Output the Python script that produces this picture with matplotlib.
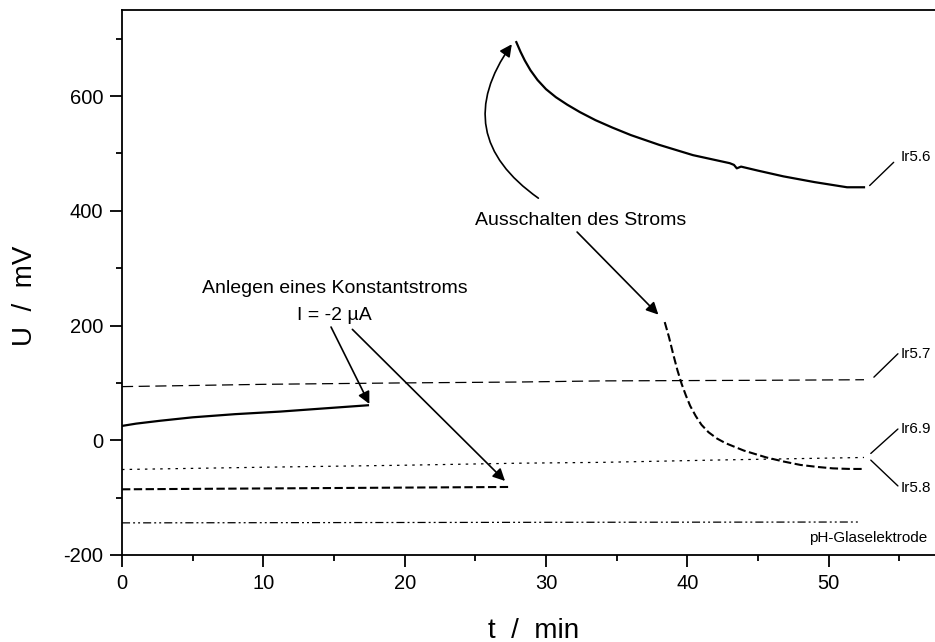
import matplotlib
matplotlib.use("Agg")
import matplotlib.pyplot as plt
from matplotlib.ticker import MultipleLocator, FixedLocator

plt.rcParams['font.family'] = ['Liberation Sans', 'DejaVu Sans']
plt.rcParams['lines.scale_dashes'] = False
plt.rcParams['axes.unicode_minus'] = False

# Ir5.6 – before and after switching off the current
t_ir56_a = [0, 1, 2.7, 5, 8, 11.2, 14, 17.4]
u_ir56_a = [25, 29, 34, 40, 45.5, 50, 55, 61]
t_ir56_b = [27.9, 28.2, 28.5, 28.9, 29.4, 30.0, 30.7, 31.5, 32.4, 33.5, 34.7, 36, 38, 40.4,
            43.0, 43.3, 43.5, 43.8, 45, 46.8, 49, 51.3, 52.5]
u_ir56_b = [694, 677, 662, 645, 628, 612, 598, 585, 572, 558, 545, 532, 515, 497,
            483, 480, 474, 477, 470, 460, 450, 441, 441]

# Ir5.7
t_ir57 = [0, 10, 20, 28, 34, 45, 52.5]
u_ir57 = [93.5, 97.5, 100, 101.5, 103.5, 104.5, 105.5]

# Ir6.9
t_ir69 = [0, 10, 20, 28, 34, 42, 52.5]
u_ir69 = [-51, -47, -43.5, -40, -38.5, -34.5, -30]

# Ir5.8 – constant current phase and relaxation
t_ir58_a = [0, 10, 20, 27.5]
u_ir58_a = [-85.5, -84, -82.5, -81.4]
t_ir58_b = [38.4, 38.7, 39.0, 39.3, 39.6, 39.9, 40.2, 40.6, 41.0, 41.5, 42.1, 42.7,
            43.3, 44.0, 44.8, 45.6, 46.8, 48.0, 49.2, 50.3, 51.5, 52.5]
u_ir58_b = [206, 180, 150, 122, 98, 78, 60, 42, 27, 14, 3, -5,
            -11, -18, -24, -30, -37, -43, -46.5, -49, -50, -50]

# pH glass electrode
t_ph = [0, 30, 52.2]
u_ph = [-144, -143, -142.5]

x_ticks = [0, 10, 20, 30, 40, 50]

fig = plt.figure(figsize=(9.35, 6.42), dpi=100)
ax = fig.add_axes([122 / 935, 87 / 642, 848 / 935, 545 / 642])

k = 'black'
ax.plot(t_ir56_a, u_ir56_a, color=k, lw=1.6)
ax.plot(t_ir56_b, u_ir56_b, color=k, lw=1.6)
ax.plot(t_ir57, u_ir57, color=k, lw=0.9, ls=(0, (8, 4)))
ax.plot(t_ir69, u_ir69, color=k, lw=0.9, ls=(0, (1.8, 3.7)))
ax.plot(t_ir58_a, u_ir58_a, color=k, lw=1.5, ls=(0, (6, 2.5)))
ax.plot(t_ir58_b, u_ir58_b, color=k, lw=1.5, ls=(0, (6, 2.5)))
ax.plot(t_ph, u_ph, color=k, lw=0.9, ls=(0, (5.8, 2.2, 1.4, 2.2, 1.4, 2.2)))

ax.set_xlim(0, 60)
ax.set_ylim(-200, 750)
ax.xaxis.set_major_locator(FixedLocator(x_ticks))
ax.xaxis.set_minor_locator(MultipleLocator(5))
ax.yaxis.set_major_locator(MultipleLocator(200))
ax.yaxis.set_minor_locator(MultipleLocator(100))
ax.tick_params(which='both', direction='out', width=1.3, top=False, right=False,
               labelsize=14.5, colors=k)
ax.tick_params(which='major', length=8.5, pad=5)
ax.tick_params(which='minor', length=4.3)
for s in ax.spines.values():
    s.set_linewidth(1.3)

fig.text(25 / 935, 1 - 296 / 642, 'U  /  mV', rotation=90, ha='center', va='center', fontsize=20)
fig.text(534 / 935, 1 - 637.5 / 642, 't  /  min', ha='center', va='baseline', fontsize=20)

# curve labels with leader lines
leader = dict(arrowstyle='-', lw=1.0, color=k, shrinkA=0, shrinkB=0)
labels = [
    ('Ir5.6', (52.9, 444), (54.6, 484.5), (55.1, 494)),
    ('Ir5.7', (53.2, 110), (54.9, 150.8), (55.1, 151)),
    ('Ir6.9', (52.98, -23), (54.9, 19.6), (55.1, 20)),
    ('Ir5.8', (52.98, -34.6), (54.9, -79.6), (55.1, -83)),
]
for name, p0, p1, ptxt in labels:
    ax.annotate('', xy=p0, xytext=p1, arrowprops=leader, annotation_clip=False)
    ax.text(ptxt[0], ptxt[1], name, ha='left', va='center', fontsize=11, clip_on=False)
ax.text(48.6, -170.6, 'pH-Glaselektrode', ha='left', va='center', fontsize=11, clip_on=False)

# annotations with arrows
arrow = dict(arrowstyle='-|>', lw=1.2, color=k, shrinkA=0, shrinkB=0, mutation_scale=18)
ax.text(15.05, 264.6, 'Anlegen eines Konstantstroms', ha='center', va='center', fontsize=14)
ax.text(15.0, 217.8, 'I = -2 µA', ha='center', va='center', fontsize=14)
ax.annotate('', xy=(17.5, 63.3), xytext=(14.79, 197.4), arrowprops=arrow)
ax.annotate('', xy=(27.1, -70.9), xytext=(16.3, 193.3), arrowprops=arrow)

ax.text(32.48, 382.3, 'Ausschalten des Stroms', ha='center', va='center', fontsize=14)
ax.annotate('', xy=(37.95, 219), xytext=(32.2, 363), arrowprops=arrow)
ax.annotate('', xy=(27.58, 690.3), xytext=(29.46, 422),
            arrowprops=dict(arrow, connectionstyle='arc3,rad=-0.5'))

fig.savefig('out.png', dpi=100)
